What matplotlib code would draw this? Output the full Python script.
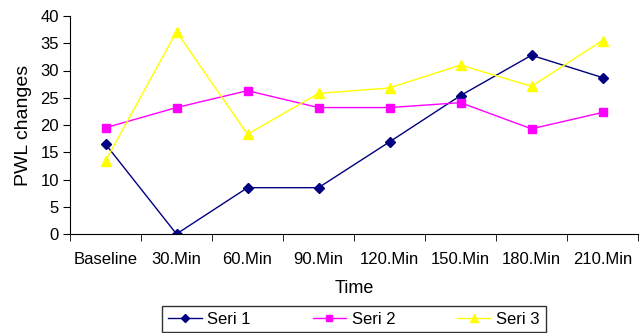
import numpy as np
import matplotlib
matplotlib.use('Agg')
import matplotlib.pyplot as plt

plt.rcParams['font.family'] = ['Liberation Sans', 'DejaVu Sans']

categories = ['Baseline', '30.Min', '60.Min', '90.Min', '120.Min', '150.Min', '180.Min', '210.Min']
seri1 = [16.5, 0.0, 8.5, 8.5, 16.9, 25.4, 32.8, 28.7]
seri2 = [19.5, 23.2, 26.3, 23.2, 23.2, 24.1, 19.3, 22.3]
seri3 = [13.4, 37.1, 18.3, 25.8, 26.8, 31.0, 27.1, 35.5]

fig = plt.figure(figsize=(6.43, 3.33), dpi=100)
ax = fig.add_axes([70/643, (333-234)/333, (638-70)/643, (234-16)/333])

x = np.arange(len(categories))
ax.plot(x, seri1, color='#000080', marker='D', markersize=5, lw=1, label='Seri 1')
ax.plot(x, seri2, color='#FF00FF', marker='s', markersize=6, lw=1, label='Seri 2')
ax.plot(x, seri3, color='#FFFF00', marker='^', markersize=7, lw=1, label='Seri 3')

ax.set_xlim(-0.5, len(categories) - 0.5)
ax.set_ylim(0, 40)
ax.set_yticks(range(0, 41, 5))
ax.set_xticks(x)
ax.set_xticklabels(categories)
ax.set_xticks(np.arange(-0.5, len(categories), 1), minor=True)
ax.tick_params(axis='x', which='major', length=0, pad=13, labelsize=12)
ax.tick_params(axis='x', which='minor', length=5, direction='out')
ax.tick_params(axis='y', length=5, direction='out', labelsize=12, pad=3)

for s in ['top', 'right']:
    ax.spines[s].set_visible(False)

ax.set_xlabel('Time', fontsize=13, labelpad=9)
ax.set_ylabel('PWL changes', fontsize=14, labelpad=6)

leg = fig.legend(loc='lower center', bbox_to_anchor=(354/643, 0.002), ncol=3, fontsize=12,
                 frameon=True, fancybox=False, edgecolor='black', columnspacing=3.7,
                 handlelength=2.0, borderpad=0.35, handletextpad=0.35, markerscale=0.8,
                 borderaxespad=0.0)
leg.get_frame().set_linewidth(1)

fig.savefig('out.png', dpi=100)
